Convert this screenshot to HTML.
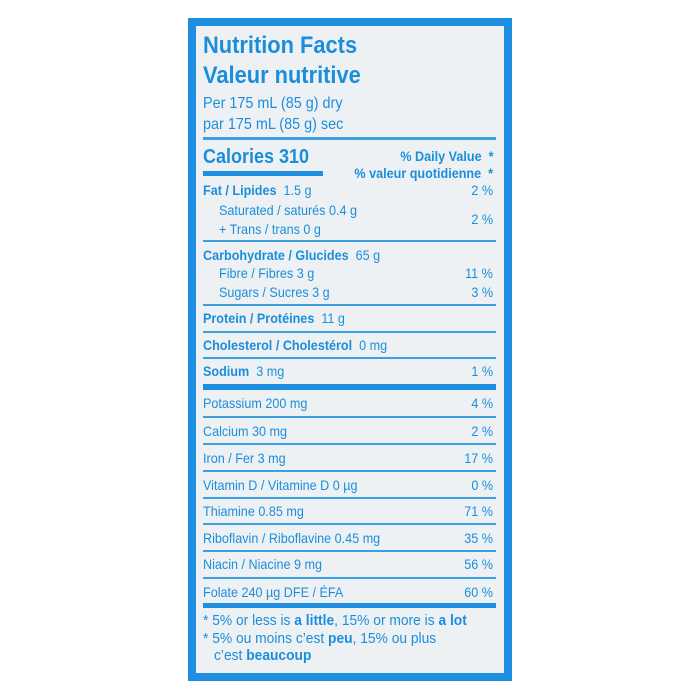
<!DOCTYPE html>
<html><head><meta charset="utf-8"><style>
body{margin:0;width:700px;height:700px;background:#fff;position:relative;overflow:hidden;font-family:"Liberation Sans",sans-serif;color:#1b8edb}
.box{position:absolute;left:188px;top:18px;width:308px;height:647px;border:8px solid #1e8fe0;background:#eef1f4}
.t{position:absolute;white-space:nowrap;transform:scaleX(0.9);transform-origin:left center;line-height:1}
.r{position:absolute;white-space:nowrap;transform:scaleX(0.9);transform-origin:right center;line-height:1;right:207px}
.l{position:absolute;left:203px;width:293px;height:2px;background:#3b9fe2}
b{font-weight:bold}
</style></head><body>
<div class="box"></div>
<div class="t" style="left:203px;top:34px;font-size:24px;font-weight:bold;transform:scaleX(0.91)">Nutrition Facts</div>
<div class="t" style="left:203px;top:64px;font-size:24px;font-weight:bold;transform:scaleX(0.91)">Valeur nutritive</div>
<div class="t" style="left:203px;top:96px;font-size:16px">Per 175 mL (85 g) dry</div>
<div class="t" style="left:203px;top:117px;font-size:16px">par 175 mL (85 g) sec</div>
<div class="l" style="top:137px;height:3px"></div>
<div class="t" style="left:203px;top:147px;font-size:20px;font-weight:bold">Calories 310</div>
<div style="position:absolute;left:203px;top:171px;width:120px;height:5px;background:#1e8fe0"></div>
<div class="r" style="top:149px;font-size:14px;font-weight:bold">% Daily Value &nbsp;*</div>
<div class="r" style="top:166px;font-size:14px;font-weight:bold">% valeur quotidienne &nbsp;*</div>

<div class="t" style="left:203px;top:183px;font-size:14px"><b>Fat / Lipides</b>&nbsp; 1.5 g</div>
<div class="r" style="top:183px;font-size:14px">2 %</div>
<div class="t" style="left:219px;top:203px;font-size:14px">Saturated / saturés 0.4 g</div>
<div class="t" style="left:219px;top:222px;font-size:14px">+ Trans / trans 0 g</div>
<div class="r" style="top:212px;font-size:14px">2 %</div>
<div class="l" style="top:240px"></div>
<div class="t" style="left:203px;top:248px;font-size:14px"><b>Carbohydrate / Glucides</b>&nbsp; 65 g</div>
<div class="t" style="left:219px;top:266px;font-size:14px">Fibre / Fibres 3 g</div>
<div class="r" style="top:266px;font-size:14px">11 %</div>
<div class="t" style="left:219px;top:285px;font-size:14px">Sugars / Sucres 3 g</div>
<div class="r" style="top:285px;font-size:14px">3 %</div>
<div class="l" style="top:304px"></div>
<div class="t" style="left:203px;top:311px;font-size:14px"><b>Protein / Protéines</b>&nbsp; 11 g</div>
<div class="l" style="top:331px"></div>
<div class="t" style="left:203px;top:338px;font-size:14px"><b>Cholesterol / Cholestérol</b>&nbsp; 0 mg</div>
<div class="l" style="top:357px"></div>
<div class="t" style="left:203px;top:364px;font-size:14px"><b>Sodium</b>&nbsp; 3 mg</div>
<div class="r" style="top:364px;font-size:14px">1 %</div>
<div class="l" style="top:384px;height:6px;background:#1e8fe0"></div>
<div class="t" style="left:203px;top:396px;font-size:14px">Potassium 200 mg</div>
<div class="r" style="top:396px;font-size:14px">4 %</div>
<div class="l" style="top:416px"></div>
<div class="t" style="left:203px;top:424px;font-size:14px">Calcium 30 mg</div>
<div class="r" style="top:424px;font-size:14px">2 %</div>
<div class="l" style="top:443px"></div>
<div class="t" style="left:203px;top:451px;font-size:14px">Iron / Fer 3 mg</div>
<div class="r" style="top:451px;font-size:14px">17 %</div>
<div class="l" style="top:470px"></div>
<div class="t" style="left:203px;top:478px;font-size:14px">Vitamin D / Vitamine D 0 µg</div>
<div class="r" style="top:478px;font-size:14px">0 %</div>
<div class="l" style="top:497px"></div>
<div class="t" style="left:203px;top:504px;font-size:14px">Thiamine 0.85 mg</div>
<div class="r" style="top:504px;font-size:14px">71 %</div>
<div class="l" style="top:523px"></div>
<div class="t" style="left:203px;top:531px;font-size:14px">Riboflavin / Riboflavine 0.45 mg</div>
<div class="r" style="top:531px;font-size:14px">35 %</div>
<div class="l" style="top:550px"></div>
<div class="t" style="left:203px;top:557px;font-size:14px">Niacin / Niacine 9 mg</div>
<div class="r" style="top:557px;font-size:14px">56 %</div>
<div class="l" style="top:577px"></div>
<div class="t" style="left:203px;top:585px;font-size:14px">Folate 240 µg DFE / ÉFA</div>
<div class="r" style="top:585px;font-size:14px">60 %</div>
<div class="l" style="top:603px;height:5px;background:#1e8fe0"></div>
<div class="t" style="left:203px;top:613px;font-size:15px;transform:scaleX(0.92)">* 5% or less is <b>a little</b>, 15% or more is <b>a lot</b></div>
<div class="t" style="left:203px;top:631px;font-size:15px;transform:scaleX(0.92)">* 5% ou moins c’est <b>peu</b>, 15% ou plus</div>
<div class="t" style="left:214px;top:648px;font-size:15px;transform:scaleX(0.92)">c’est <b>beaucoup</b></div>
</body></html>
